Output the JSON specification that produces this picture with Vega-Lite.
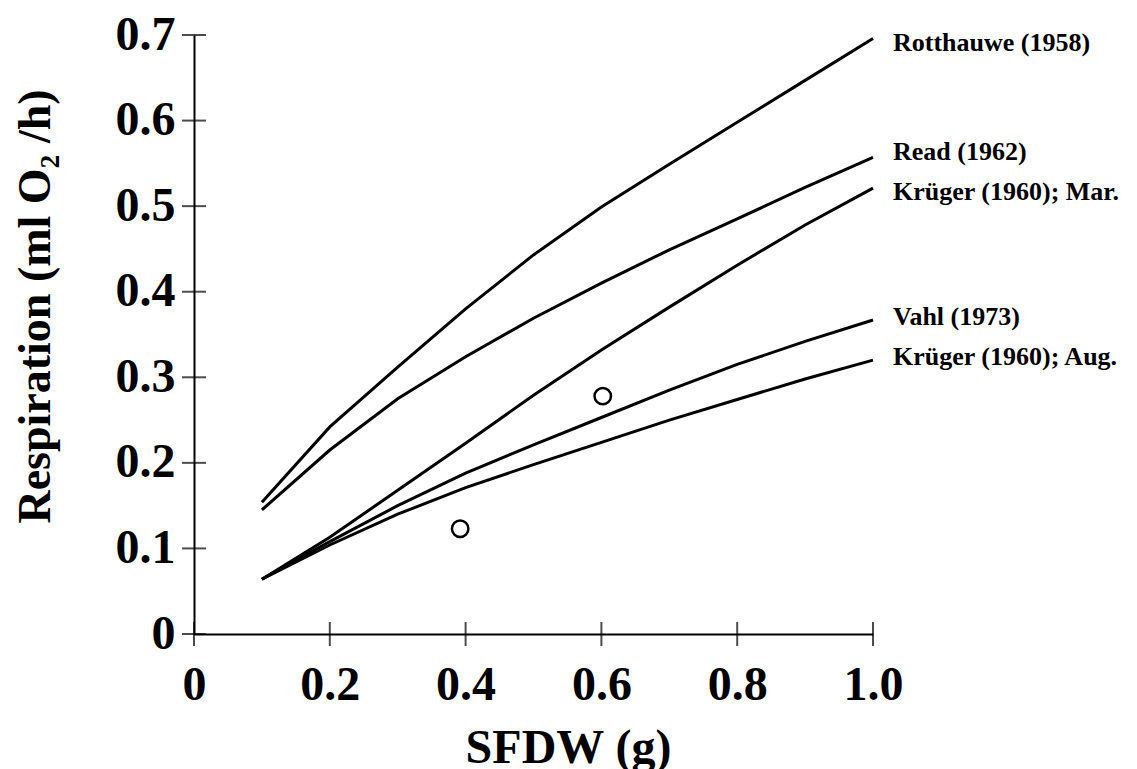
{
  "$schema": "https://vega.github.io/schema/vega-lite/v6.json",
  "width": 679,
  "height": 599,
  "autosize": {"type": "none"},
  "padding": {"left": 194, "top": 35, "right": 264, "bottom": 135},
  "background": "white",
  "config": {
    "view": {"stroke": null},
    "font": "Liberation Serif",
    "axis": {"grid": false}
  },
  "datasets": {
    "curves": [
      {"series": "Rotthauwe", "sfdw": 0.1, "resp": 0.154},
      {"series": "Rotthauwe", "sfdw": 0.2, "resp": 0.242},
      {"series": "Rotthauwe", "sfdw": 0.3, "resp": 0.312},
      {"series": "Rotthauwe", "sfdw": 0.4, "resp": 0.380},
      {"series": "Rotthauwe", "sfdw": 0.5, "resp": 0.443},
      {"series": "Rotthauwe", "sfdw": 0.6, "resp": 0.499},
      {"series": "Rotthauwe", "sfdw": 0.7, "resp": 0.549},
      {"series": "Rotthauwe", "sfdw": 0.8, "resp": 0.598},
      {"series": "Rotthauwe", "sfdw": 0.9, "resp": 0.647},
      {"series": "Rotthauwe", "sfdw": 1.0, "resp": 0.696},
      {"series": "Read", "sfdw": 0.1, "resp": 0.145},
      {"series": "Read", "sfdw": 0.2, "resp": 0.215},
      {"series": "Read", "sfdw": 0.3, "resp": 0.275},
      {"series": "Read", "sfdw": 0.4, "resp": 0.324},
      {"series": "Read", "sfdw": 0.5, "resp": 0.369},
      {"series": "Read", "sfdw": 0.6, "resp": 0.410},
      {"series": "Read", "sfdw": 0.7, "resp": 0.449},
      {"series": "Read", "sfdw": 0.8, "resp": 0.485},
      {"series": "Read", "sfdw": 0.9, "resp": 0.522},
      {"series": "Read", "sfdw": 1.0, "resp": 0.557},
      {"series": "KruegerMar", "sfdw": 0.1, "resp": 0.064},
      {"series": "KruegerMar", "sfdw": 0.2, "resp": 0.113},
      {"series": "KruegerMar", "sfdw": 0.3, "resp": 0.168},
      {"series": "KruegerMar", "sfdw": 0.4, "resp": 0.223},
      {"series": "KruegerMar", "sfdw": 0.5, "resp": 0.279},
      {"series": "KruegerMar", "sfdw": 0.6, "resp": 0.332},
      {"series": "KruegerMar", "sfdw": 0.7, "resp": 0.382},
      {"series": "KruegerMar", "sfdw": 0.8, "resp": 0.431},
      {"series": "KruegerMar", "sfdw": 0.9, "resp": 0.478},
      {"series": "KruegerMar", "sfdw": 1.0, "resp": 0.521},
      {"series": "Vahl", "sfdw": 0.1, "resp": 0.064},
      {"series": "Vahl", "sfdw": 0.2, "resp": 0.108},
      {"series": "Vahl", "sfdw": 0.3, "resp": 0.150},
      {"series": "Vahl", "sfdw": 0.4, "resp": 0.188},
      {"series": "Vahl", "sfdw": 0.5, "resp": 0.221},
      {"series": "Vahl", "sfdw": 0.6, "resp": 0.253},
      {"series": "Vahl", "sfdw": 0.7, "resp": 0.285},
      {"series": "Vahl", "sfdw": 0.8, "resp": 0.315},
      {"series": "Vahl", "sfdw": 0.9, "resp": 0.342},
      {"series": "Vahl", "sfdw": 1.0, "resp": 0.367},
      {"series": "KruegerAug", "sfdw": 0.1, "resp": 0.064},
      {"series": "KruegerAug", "sfdw": 0.2, "resp": 0.104},
      {"series": "KruegerAug", "sfdw": 0.3, "resp": 0.140},
      {"series": "KruegerAug", "sfdw": 0.4, "resp": 0.171},
      {"series": "KruegerAug", "sfdw": 0.5, "resp": 0.198},
      {"series": "KruegerAug", "sfdw": 0.6, "resp": 0.224},
      {"series": "KruegerAug", "sfdw": 0.7, "resp": 0.250},
      {"series": "KruegerAug", "sfdw": 0.8, "resp": 0.274},
      {"series": "KruegerAug", "sfdw": 0.9, "resp": 0.298},
      {"series": "KruegerAug", "sfdw": 1.0, "resp": 0.320}
    ],
    "obs": [
      {"sfdw": 0.392, "resp": 0.123},
      {"sfdw": 0.602, "resp": 0.278}
    ],
    "labels": [
      {"label": "Rotthauwe (1958)", "sfdw": 1.0, "resp": 0.691},
      {"label": "Read (1962)", "sfdw": 1.0, "resp": 0.563},
      {"label": "Krüger (1960); Mar.", "sfdw": 1.0, "resp": 0.516},
      {"label": "Vahl (1973)", "sfdw": 1.0, "resp": 0.370},
      {"label": "Krüger (1960); Aug.", "sfdw": 1.0, "resp": 0.324}
    ],
    "xticks": [{"v": 0}, {"v": 0.2}, {"v": 0.4}, {"v": 0.6}, {"v": 0.8}, {"v": 1.0}],
    "yticks": [{"v": 0}, {"v": 0.1}, {"v": 0.2}, {"v": 0.3}, {"v": 0.4}, {"v": 0.5}, {"v": 0.6}, {"v": 0.7}]
  },
  "layer": [
    {
      "data": {"name": "curves"},
      "mark": {"type": "line", "color": "black", "strokeWidth": 3, "clip": false},
      "encoding": {
        "x": {
          "field": "sfdw", "type": "quantitative",
          "scale": {"domain": [0, 1], "nice": false, "zero": true},
          "axis": {
            "values": [0, 0.2, 0.4, 0.6, 0.8, 1.0],
            "labelExpr": "datum.value == 0 ? '0' : format(datum.value, '.1f')",
            "title": "SFDW (g)",
            "domainColor": "black", "domainWidth": 2,
            "ticks": false,
            "labelPadding": 27,
            "labelFont": "Liberation Serif", "labelFontWeight": "bold", "labelFontSize": 48, "labelColor": "black",
            "labelFlush": false, "labelOverlap": false,
            "titleFont": "Liberation Serif", "titleFontWeight": "bold", "titleFontSize": 48, "titleColor": "black",
            "titleX": 374, "titleY": 128, "titleBaseline": "alphabetic", "titleAlign": "center"
          }
        },
        "y": {
          "field": "resp", "type": "quantitative",
          "scale": {"domain": [0, 0.7], "nice": false},
          "axis": {
            "values": [0, 0.1, 0.2, 0.3, 0.4, 0.5, 0.6, 0.7],
            "labelExpr": "datum.value == 0 ? '0' : format(datum.value, '.1f')",
            "title": "Respiration (ml O₂ /h)",
            "domainColor": "black", "domainWidth": 2,
            "ticks": false,
            "labelPadding": 19,
            "labelFont": "Liberation Serif", "labelFontWeight": "bold", "labelFontSize": 48, "labelColor": "black",
            "labelFlush": false, "labelOverlap": false, "labelBaseline": "middle",
            "titleFont": "Liberation Serif", "titleFontWeight": "bold", "titleFontSize": 46, "titleColor": "black",
            "titleX": -145, "titleY": 271, "titleAngle": -90, "titleBaseline": "alphabetic", "titleAlign": "center"
          }
        },
        "detail": {"field": "series"}
      }
    },
    {
      "data": {"name": "xticks"},
      "mark": {"type": "tick", "orient": "vertical", "size": 24, "thickness": 2, "color": "black", "clip": false},
      "encoding": {
        "x": {"field": "v", "type": "quantitative"},
        "y": {"datum": 0, "type": "quantitative"}
      }
    },
    {
      "data": {"name": "yticks"},
      "mark": {"type": "tick", "orient": "horizontal", "size": 24, "thickness": 2, "color": "black", "clip": false},
      "encoding": {
        "y": {"field": "v", "type": "quantitative"},
        "x": {"datum": 0, "type": "quantitative"}
      }
    },
    {
      "data": {"name": "obs"},
      "mark": {"type": "point", "shape": "circle", "filled": false, "color": "black", "strokeWidth": 2.5, "size": 270, "opacity": 1},
      "encoding": {
        "x": {"field": "sfdw", "type": "quantitative"},
        "y": {"field": "resp", "type": "quantitative"}
      }
    },
    {
      "data": {"name": "labels"},
      "mark": {"type": "text", "align": "left", "baseline": "middle", "dx": 20, "font": "Liberation Serif", "fontWeight": "bold", "fontSize": 26, "color": "black", "clip": false},
      "encoding": {
        "x": {"field": "sfdw", "type": "quantitative"},
        "y": {"field": "resp", "type": "quantitative"},
        "text": {"field": "label"}
      }
    }
  ]
}
